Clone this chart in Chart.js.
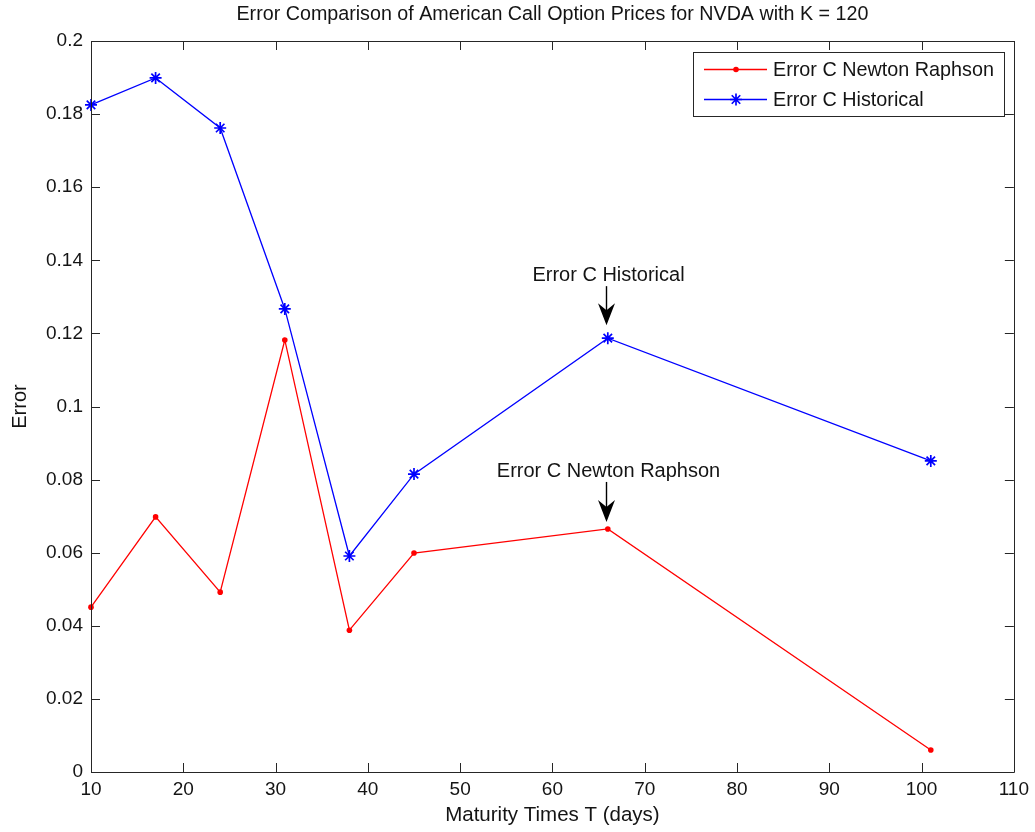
<!DOCTYPE html>
<html>
<head>
<meta charset="utf-8">
<script src="https://cdn.jsdelivr.net/npm/chart.js@4.4.1/dist/chart.umd.min.js"></script>
<style>
  html, body { margin: 0; padding: 0; background: #fff; }
  #wrap { width: 1035px; height: 832px; }
</style>
</head>
<body>
<div id="wrap"><canvas id="c" width="1035" height="832"></canvas></div>
<script>
// Maturities (days) and pricing errors of the two volatility estimates
const maturities = [10, 17, 24, 31, 38, 45, 66, 101];
const errorNewtonRaphson = [0.0451, 0.0698, 0.0492, 0.1182, 0.0388, 0.0599, 0.0665, 0.0060];
const errorHistorical = [0.1825, 0.1899, 0.1762, 0.1267, 0.0591, 0.0815, 0.1187, 0.0851];
const seriesNames = ['Error C Newton Raphson', 'Error C Historical'];

// Axis ticks
const xTickValues = [10, 20, 30, 40, 50, 60, 70, 80, 90, 100, 110];
const yTickValues = [0, 0.02, 0.04, 0.06, 0.08, 0.1, 0.12, 0.14, 0.16, 0.18, 0.2];
const yTickLabels = ['0', '0.02', '0.04', '0.06', '0.08', '0.1', '0.12', '0.14', '0.16', '0.18', '0.2'];

const chartTitle = 'Error Comparison of American Call Option Prices for NVDA with K = 120';
const FONT = '"Liberation Sans", Arial, sans-serif';
const TEXT = '#141414';
const AXIS = '#262626';

// Arrow callouts pointing at one point of a series
const callouts = [
  { text: 'Error C Historical', series: 1, index: 6, tipGap: 13, length: 39, textGap: 63 },
  { text: 'Error C Newton Raphson', series: 0, index: 6, tipGap: 7, length: 40, textGap: 57 }
];

function pts(values) {
  return maturities.map((m, i) => ({ x: m, y: values[i] }));
}

// Boxed axes with inward tick marks on all four sides, plus the title
const boxAxes = {
  id: 'boxAxes',
  afterDatasetsDraw(chart) {
    const { ctx, chartArea: a, scales } = chart;
    const L = 9;
    ctx.save();
    ctx.strokeStyle = AXIS;
    ctx.lineWidth = 1;
    ctx.beginPath();
    ctx.rect(Math.round(a.left) + 0.5, Math.round(a.top) + 0.5,
             Math.round(a.right - a.left), Math.round(a.bottom - a.top));
    xTickValues.forEach(v => {
      const px = Math.round(scales.x.getPixelForValue(v)) + 0.5;
      ctx.moveTo(px, a.bottom); ctx.lineTo(px, a.bottom - L);
      ctx.moveTo(px, a.top); ctx.lineTo(px, a.top + L);
    });
    yTickValues.forEach(v => {
      const py = Math.round(scales.y.getPixelForValue(v)) + 0.5;
      ctx.moveTo(a.left, py); ctx.lineTo(a.left + L, py);
      ctx.moveTo(a.right, py); ctx.lineTo(a.right - L, py);
    });
    ctx.stroke();
    ctx.restore();
  },
  afterDraw(chart) {
    const { ctx, chartArea: a } = chart;
    ctx.save();
    ctx.fillStyle = TEXT;
    ctx.font = '19.7px ' + FONT;
    ctx.textAlign = 'center';
    ctx.textBaseline = 'middle';
    ctx.fillText(chartTitle, (a.left + a.right) / 2, 15);
    ctx.restore();
  }
};

// Arrow annotations
const arrowCallouts = {
  id: 'arrowCallouts',
  afterDraw(chart) {
    const { ctx } = chart;
    ctx.save();
    callouts.forEach(c => {
      const el = chart.getDatasetMeta(c.series).data[c.index];
      const x = Math.round(el.x) - 1.5;
      const tip = el.y - c.tipGap;
      const tail = tip - c.length;
      ctx.strokeStyle = '#000';
      ctx.fillStyle = '#000';
      ctx.lineWidth = 1.4;
      ctx.beginPath();
      ctx.moveTo(x, tail); ctx.lineTo(x, tip - 8); ctx.stroke();
      ctx.beginPath();
      ctx.moveTo(x, tip);
      ctx.lineTo(x - 8.5, tip - 22);
      ctx.lineTo(x, tip - 15);
      ctx.lineTo(x + 8.5, tip - 22);
      ctx.closePath();
      ctx.fill();
      ctx.fillStyle = TEXT;
      ctx.font = '20px ' + FONT;
      ctx.textAlign = 'center';
      ctx.textBaseline = 'middle';
      ctx.fillText(c.text, x + 2, el.y - c.textGap);
    });
    ctx.restore();
  }
};

// Boxed legend in the upper right corner of the plot
const boxLegend = {
  id: 'boxLegend',
  afterDraw(chart) {
    const { ctx } = chart;
    const bx = 693.5, by = 52.5, bw = 311, bh = 64;
    ctx.save();
    ctx.fillStyle = '#fff';
    ctx.fillRect(bx, by, bw, bh);
    ctx.strokeStyle = AXIS;
    ctx.lineWidth = 1;
    ctx.strokeRect(bx, by, bw, bh);
    chart.data.datasets.forEach((ds, i) => {
      const y = by + 17 + i * 30;
      ctx.strokeStyle = ds.borderColor;
      ctx.lineWidth = ds.borderWidth;
      ctx.beginPath();
      ctx.moveTo(704, y); ctx.lineTo(767, y); ctx.stroke();
      ctx.fillStyle = ds.pointBackgroundColor;
      ctx.strokeStyle = ds.pointBorderColor;
      ctx.lineWidth = ds.pointBorderWidth;
      ctx.beginPath();
      if (ds.pointStyle === 'circle') {
        ctx.arc(736, y, ds.pointRadius, 0, Math.PI * 2);
        ctx.fill();
      } else {
        const r = ds.pointRadius;
        ctx.moveTo(736 - r, y); ctx.lineTo(736 + r, y);
        ctx.moveTo(736, y - r); ctx.lineTo(736, y + r);
        const d = r * Math.SQRT1_2;
        ctx.moveTo(736 - d, y - d); ctx.lineTo(736 + d, y + d);
        ctx.moveTo(736 - d, y + d); ctx.lineTo(736 + d, y - d);
        ctx.stroke();
      }
      ctx.fillStyle = TEXT;
      ctx.font = '19.8px ' + FONT;
      ctx.textAlign = 'left';
      ctx.textBaseline = 'middle';
      ctx.fillText(ds.label, 773, y + 1);
    });
    ctx.restore();
  }
};

new Chart(document.getElementById('c'), {
  type: 'line',
  data: {
    datasets: [
      {
        label: seriesNames[0],
        data: pts(errorNewtonRaphson),
        borderColor: '#ff0000',
        backgroundColor: '#ff0000',
        borderWidth: 1.3,
        pointStyle: 'circle',
        pointRadius: 2.8,
        pointBorderWidth: 0,
        pointBackgroundColor: '#ff0000',
        pointBorderColor: '#ff0000',
        tension: 0,
        clip: false
      },
      {
        label: seriesNames[1],
        data: pts(errorHistorical),
        borderColor: '#0000ff',
        backgroundColor: '#0000ff',
        borderWidth: 1.3,
        pointStyle: 'star',
        pointRadius: 6,
        pointBorderWidth: 1.7,
        pointBackgroundColor: '#0000ff',
        pointBorderColor: '#0000ff',
        tension: 0,
        clip: false
      }
    ]
  },
  options: {
    responsive: false,
    animation: false,
    layout: { padding: { top: 41, right: 21, left: 0, bottom: 0 } },
    plugins: {
      legend: { display: false },
      title: { display: false },
      tooltip: { enabled: false }
    },
    scales: {
      x: {
        type: 'linear',
        min: 10,
        max: 110,
        afterBuildTicks(scale) { scale.ticks = xTickValues.map(v => ({ value: v })); },
        afterFit(scale) { scale.height = 60; },
        grid: { display: false, drawTicks: false },
        border: { display: false },
        ticks: {
          color: TEXT,
          font: { family: FONT, size: 19 },
          padding: 6,
          maxRotation: 0,
          autoSkip: false
        },
        title: {
          display: true,
          text: 'Maturity Times T (days)',
          color: TEXT,
          font: { family: FONT, size: 20.5 },
          padding: { top: 0, bottom: 4 }
        }
      },
      y: {
        type: 'linear',
        min: 0,
        max: 0.2,
        afterBuildTicks(scale) { scale.ticks = yTickValues.map(v => ({ value: v })); },
        afterFit(scale) { scale.width = 91; },
        grid: { display: false, drawTicks: false },
        border: { display: false },
        ticks: {
          color: TEXT,
          font: { family: FONT, size: 19 },
          padding: 8,
          autoSkip: false,
          callback: (v, i) => yTickLabels[i]
        },
        title: {
          display: true,
          text: 'Error',
          color: TEXT,
          font: { family: FONT, size: 20 },
          padding: { top: 8, bottom: 0 }
        }
      }
    }
  },
  plugins: [boxAxes, arrowCallouts, boxLegend]
});
</script>
</body>
</html>
